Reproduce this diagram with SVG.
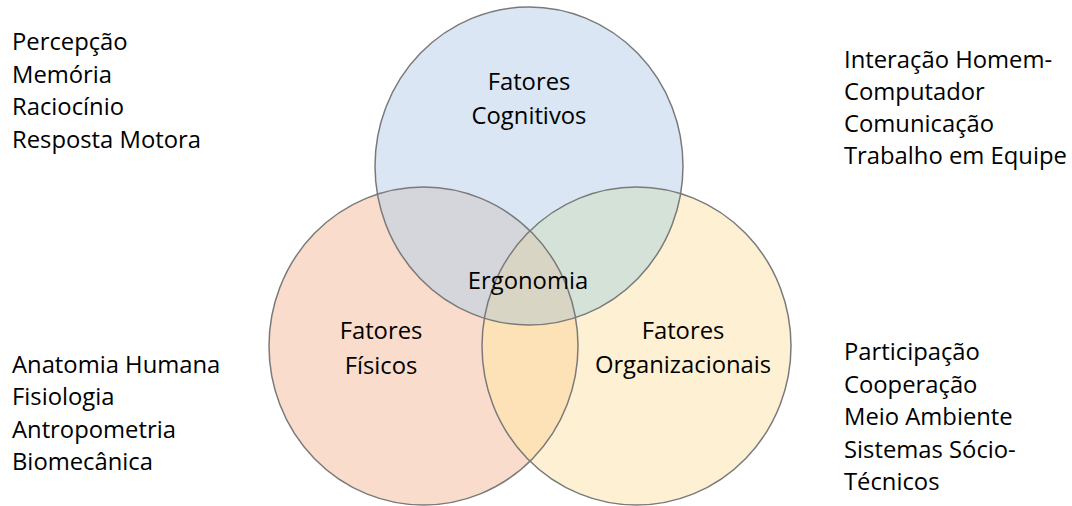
<svg xmlns="http://www.w3.org/2000/svg" width="1072" height="506" viewBox="0 0 1072 506">
  <style>
    text { font-family: "Open Sans", Lato, "Liberation Sans", sans-serif; fill: #000; }
    .list { font-size: 23.8px; }
    .lbl { font-size: 23.8px; text-anchor: middle; }
    .ring { fill: none; stroke: #7a7a7a; stroke-width: 1.5; }
  </style>
  <defs>
    <ellipse id="cTop" cx="529" cy="166" rx="154" ry="159"/>
    <ellipse id="cLeft" cx="423.5" cy="346" rx="154.5" ry="159"/>
    <ellipse id="cRight" cx="636.5" cy="346" rx="154.5" ry="159"/>
    <clipPath id="clipTop"><use href="#cTop"/></clipPath>
    <clipPath id="clipLeft"><use href="#cLeft"/></clipPath>
    <clipPath id="clipRight"><use href="#cRight"/></clipPath>
  </defs>

  <rect width="1072" height="506" fill="#ffffff"/>

  <!-- base discs -->
  <g id="cognitivos">
    <use href="#cTop" fill="#dae6f4"/>
  </g>
  <g id="fisicos">
    <use href="#cLeft" fill="#f9dccb"/>
  </g>
  <g id="organizacionais">
    <use href="#cRight" fill="#fef1d3"/>
  </g>

  <!-- pairwise and triple overlaps -->
  <g id="overlaps">
    <g clip-path="url(#clipTop)"><use href="#cLeft" fill="#d5d5dc"/></g>
    <g clip-path="url(#clipTop)"><use href="#cRight" fill="#d5e2d8"/></g>
    <g clip-path="url(#clipLeft)"><use href="#cRight" fill="#fde2b8"/></g>
    <g clip-path="url(#clipTop)"><g clip-path="url(#clipLeft)"><use href="#cRight" fill="#d8d5c5"/></g></g>
  </g>

  <!-- outlines -->
  <g id="outlines">
    <use href="#cTop" class="ring"/>
    <use href="#cLeft" class="ring"/>
    <use href="#cRight" class="ring"/>
  </g>

  <!-- circle labels -->
  <g id="label-cognitivos">
    <text class="lbl" x="529" y="90">Fatores</text>
    <text class="lbl" x="529" y="124">Cognitivos</text>
  </g>
  <g id="label-fisicos">
    <text class="lbl" x="381" y="339">Fatores</text>
    <text class="lbl" x="381" y="374">Físicos</text>
  </g>
  <g id="label-organizacionais">
    <text class="lbl" x="683" y="339">Fatores</text>
    <text class="lbl" x="683" y="373">Organizacionais</text>
  </g>
  <g id="label-ergonomia">
    <text class="lbl" x="528" y="289">Ergonomia</text>
  </g>

  <!-- side lists -->
  <g id="list-cognitivos">
    <text class="list" x="12" y="50">Percepção</text>
    <text class="list" x="12" y="83">Memória</text>
    <text class="list" x="12" y="115">Raciocínio</text>
    <text class="list" x="12" y="148">Resposta Motora</text>
  </g>
  <g id="list-organizacionais-top">
    <text class="list" x="844" y="68">Interação Homem-</text>
    <text class="list" x="844" y="100">Computador</text>
    <text class="list" x="844" y="132">Comunicação</text>
    <text class="list" x="844" y="164">Trabalho em Equipe</text>
  </g>
  <g id="list-fisicos">
    <text class="list" x="12" y="373">Anatomia Humana</text>
    <text class="list" x="12" y="405">Fisiologia</text>
    <text class="list" x="12" y="438">Antropometria</text>
    <text class="list" x="12" y="470">Biomecânica</text>
  </g>
  <g id="list-organizacionais">
    <text class="list" x="844" y="360">Participação</text>
    <text class="list" x="844" y="393">Cooperação</text>
    <text class="list" x="844" y="425">Meio Ambiente</text>
    <text class="list" x="844" y="458">Sistemas Sócio-</text>
    <text class="list" x="844" y="490">Técnicos</text>
  </g>
</svg>
